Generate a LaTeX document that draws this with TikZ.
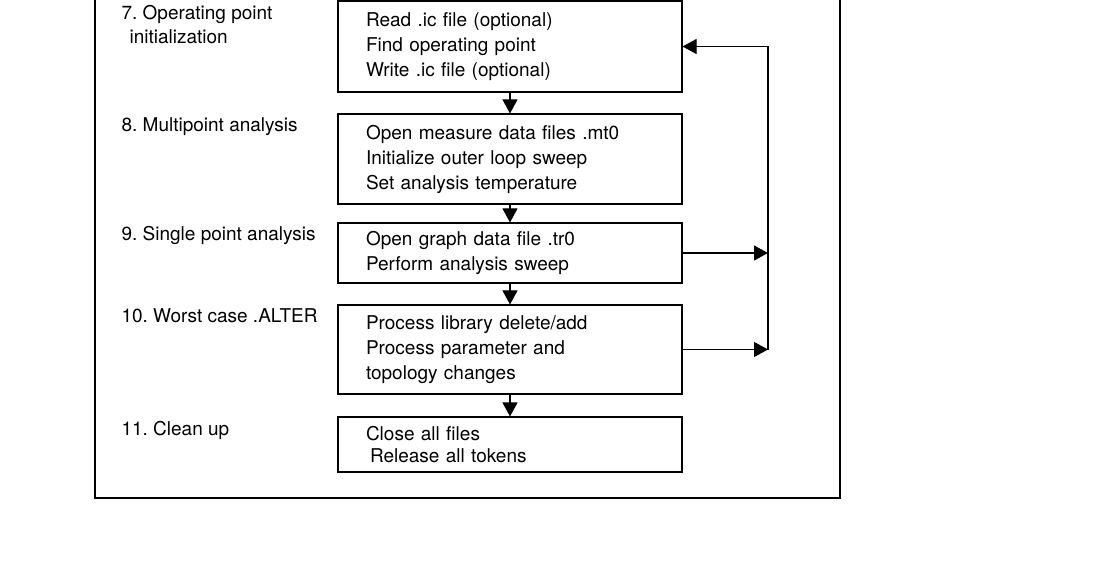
\documentclass[tikz,border=0pt]{standalone}
\usepackage{fontspec}
\setmainfont{TeX Gyre Heros}
\frenchspacing
\usetikzlibrary{arrows.meta}
\begin{document}
\begin{tikzpicture}[x=1pt,y=-1pt,line width=1.1pt,
  box/.style={draw,rectangle,minimum width=344pt,text width=288pt,inner xsep=28pt,inner ysep=0pt,align=left,font=\fontsize{19}{25}\selectfont},
  lbl/.style={anchor=base west,inner sep=0pt,font=\fontsize{19}{25}\selectfont},
  arr/.style={-{Triangle[length=14pt,width=15pt]}}]
\useasboundingbox (0,0) rectangle (1119,569);
\draw (95,-10) rectangle (840,498);
\node[box,minimum height=91pt] (b1) at (510,46.5) {Read .ic file (optional)\\Find operating point\\Write .ic file (optional)};
\node[box,minimum height=90pt] (b2) at (510,159) {Open measure data files .mt0\\Initialize outer loop sweep\\Set analysis temperature};
\node[box,minimum height=60pt] (b3) at (510,253) {Open graph data file .tr0\\Perform analysis sweep};
\node[box,minimum height=89pt] (b4) at (510,349.5) {Process library delete/add\\Process parameter and\\topology changes};
\node[box,minimum height=55pt] (b5) at (510,444.5) {Close all files\\[-3pt]\hspace*{4pt}Release all tokens};
\node[lbl] (l7a) at (121,20) {7. Operating point};
\node[lbl] (l7b) at (129,44) {initialization};
\node[lbl] (l8) at (121,132) {8. Multipoint analysis};
\node[lbl] (l9) at (121,241) {9. Single point analysis};
\node[lbl] (l10) at (121,323) {10. Worst case .ALTER};
\node[lbl] (l11) at (121,435) {11. Clean up};
\coordinate (top) at (510,-10);
\draw (top) -- (b1.north);
\draw[arr] (b1) -- (b2);
\draw[arr] (b2) -- (b3);
\draw[arr] (b3) -- (b4);
\draw[arr] (b4) -- (b5);
\coordinate (r1) at (768,46.5);
\coordinate (r4) at (768,349.5);
\coordinate (r3) at (768,253);
\draw[arr] (r4) -- (r1) -- (b1.east);
\draw[arr] (b3.east) -- (r3);
\draw[arr] (b4.east) -- (r4);
\end{tikzpicture}
\end{document}
